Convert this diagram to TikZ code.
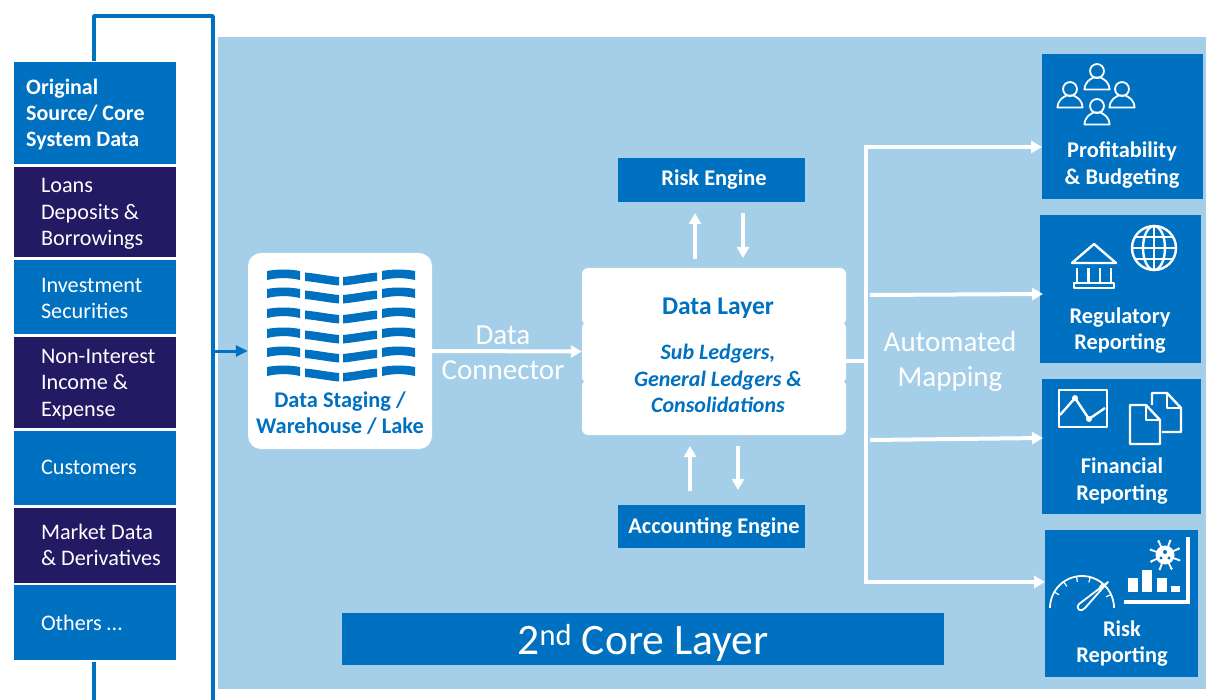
\documentclass[tikz,border=0pt]{standalone}
\usepackage{fontspec}
\setmainfont{Carlito}
\usetikzlibrary{arrows.meta}
\definecolor{bluebox}{HTML}{0070C0}
\definecolor{navybox}{HTML}{231A63}
\definecolor{lightbg}{HTML}{A5CFE9}
\tikzset{
 x=1pt,y=-1pt,
 panel/.style={fill=#1,draw=none,inner sep=0pt,outer sep=0pt,text=white},
 srctext/.style={font=\fontsize{22.2}{26.3}\selectfont,align=left,text=white,anchor=west},
 whitearrow/.style={draw=white,line width=4pt,-{Triangle[length=11pt,width=12pt]}},
 whiteline/.style={draw=white,line width=4pt},
 bluearrow/.style={draw=bluebox,line width=3pt,-{Triangle[length=12pt,width=11pt]}},
 blueline/.style={draw=bluebox,line width=3.5pt,line join=round},
 icon/.style={draw=white,line width=2.4pt,line join=round,fill=none},
 thinicon/.style={draw=white,line width=1.8pt,line join=round,fill=none},
 outtext/.style={text=white,font=\fontsize{22.4}{26.3}\selectfont\bfseries,align=center},
 flowlabel/.style={text=white,font=\fontsize{29}{35}\selectfont,align=center},
}
\newcommand{\panelbox}[6][]{%
 \pgfmathsetmacro{\pw}{#5-#3}\pgfmathsetmacro{\ph}{#6-#4}%
 \node[panel=bluebox,minimum width=\pw pt,minimum height=\ph pt,#1] (#2) at ({(#3+#5)/2},{(#4+#6)/2}) {};}
\newcommand{\person}[3]{%
 \draw[thinicon] (#1,#2) circle ({5.8*#3});
 \draw[thinicon] ({#1-10.5*#3},{#2+15.5*#3}) -- ({#1+10.5*#3},{#2+15.5*#3}) .. controls ({#1+10*#3},{#2+9*#3}) and ({#1+6*#3},{#2+7*#3}) .. ({#1+3*#3},{#2+5.5*#3}) -- ({#1-3*#3},{#2+5.5*#3}) .. controls ({#1-6*#3},{#2+7*#3}) and ({#1-10*#3},{#2+9*#3}) .. cycle;}
\begin{document}
\begin{tikzpicture}
\useasboundingbox (0,0) rectangle (1206,700);
\fill[white] (0,0) rectangle (1206,700);
\fill[lightbg] (218,37) rectangle (1206,689);
% bracket
\panelbox[panel=bluebox]{orig}{14}{62}{176}{164}
\coordinate (busTop) at (213,16);
\coordinate (busBot) at (213,700);
\coordinate (bracketTop) at (94,16);
\coordinate (stubBot) at (94,700);
\coordinate (busOut) at (213,351);
\draw[blueline] (94,61) -- (bracketTop) -- (busTop) -- (busBot);
\coordinate (othersBot) at (94,662);
\draw[blueline] (othersBot) -- (stubBot);
% source boxes
\node[srctext,font=\fontsize{22}{26.3}\selectfont\bfseries] (origT) at (22.7,114.5) {Original\\Source/ Core\\System Data};
\panelbox[panel=navybox]{loans}{14}{167}{176}{257}
\node[srctext] (loansT) at (37.5,214) {Loans\\Deposits \&\\Borrowings};
\panelbox{inv}{14}{260}{176}{334}
\node[srctext] (invT) at (37.5,298.5) {Investment\\Securities};
\panelbox[panel=navybox]{nonint}{14}{337}{176}{428}
\node[srctext] (nonT) at (37.5,384.5) {Non-Interest\\Income \&\\Expense};
\panelbox{cust}{14}{431}{176}{505}
\node[srctext] (custT) at (37.5,467.5) {Customers};
\panelbox[panel=navybox]{market}{14}{508}{176}{583}
\node[srctext] (marT) at (37.5,545) {Market Data\\\& Derivatives};
\panelbox{others}{14}{585}{176}{660}
\node[srctext] (othT) at (37.5,622.5) {Others …};
% warehouse
\node[fill=white,rounded corners=13pt,minimum width=184pt,minimum height=196pt,inner sep=0pt] (lake) at (340,351) {};
\foreach \yy in {270,288,308,328,347,366}{
 \fill[bluebox] (267,\yy+1) .. controls (278,\yy-1) and (289,\yy-1) .. (300,\yy+1) -- (300,\yy+10) .. controls (289,\yy+7.5) and (278,\yy+7.5) .. (267,\yy+10) -- cycle;
 \fill[bluebox] (305,\yy+2.5) .. controls (316,\yy+3.5) and (328,\yy+6) .. (339,\yy+7) -- (339,\yy+15.5) .. controls (328,\yy+14.5) and (316,\yy+12) .. (305,\yy+11) -- cycle;
 \fill[bluebox] (343,\yy+7) .. controls (354,\yy+6) and (366,\yy+3.5) .. (377,\yy+2.5) -- (377,\yy+11) .. controls (366,\yy+12) and (354,\yy+14.5) .. (343,\yy+15.5) -- cycle;
 \fill[bluebox] (382,\yy+1) .. controls (393,\yy-1) and (404,\yy-1) .. (415,\yy+1) -- (415,\yy+10) .. controls (404,\yy+7.5) and (393,\yy+7.5) .. (382,\yy+10) -- cycle;
}
\node[text=bluebox,font=\fontsize{22.4}{26.3}\selectfont\bfseries,align=center] (lakeT) at (340,413) {Data Staging /\\Warehouse / Lake};
\draw[bluearrow] (busOut) -- (lake.west);
% data layer
\fill[white,rounded corners=6pt] (582,268) rectangle (846,325);
\fill[white,rounded corners=6pt] (582,322) rectangle (846,383);
\fill[white,rounded corners=6pt] (582,380) rectangle (846,435);
\node[minimum width=264pt,minimum height=167pt,inner sep=0pt] (dl) at (714,351.5) {};
\node[text=bluebox,font=\fontsize{25.5}{30}\selectfont\bfseries] (dlT) at (718,308) {Data Layer};
\node[text=bluebox,font=\fontsize{22}{26.2}\selectfont\bfseries\itshape,align=center] (dlS) at (718,378.5) {Sub Ledgers,\\General Ledgers \&\\Consolidations};
\draw[whitearrow] (lake.east) -- (dl.west);
\node[flowlabel] (conn) at (503,352.5) {Data\\Connector};
% engines
\panelbox{risk}{618}{158}{805}{202}
\node[outtext] (riskT) at (714,179.5) {Risk Engine};
\panelbox{acc}{618}{505}{805}{548}
\node[outtext] (accT) at (714,527.5) {Accounting Engine};
\coordinate (a1) at (695,259); \coordinate (a2) at (695,213);
\coordinate (a3) at (743,213); \coordinate (a4) at (743,258);
\coordinate (b1) at (690,491); \coordinate (b2) at (690,446);
\coordinate (b3) at (738,446); \coordinate (b4) at (738,490);
\draw[whitearrow] (a1) -- (a2);
\draw[whitearrow] (a3) -- (a4);
\draw[whitearrow] (b1) -- (b2);
\draw[whitearrow] (b3) -- (b4);
% outputs
\panelbox{prof}{1042}{54}{1203}{199}
\panelbox{reg}{1040}{215}{1201}{363}
\panelbox{fin}{1042}{379}{1201}{514}
\panelbox{rr}{1045}{530}{1198}{677}
\node[outtext] (profT) at (1122,165) {Profitability\\\& Budgeting};
\node[outtext] (regT) at (1120,330.5) {Regulatory\\Reporting};
\node[outtext] (finT) at (1122,481) {Financial\\Reporting};
\node[outtext] (rrT) at (1122,643.5) {Risk\\Reporting};
% trunk
\coordinate (t0) at (846,361);
\coordinate (t1) at (866,361);
\coordinate (tTop) at (866,147);
\coordinate (tBot) at (866,582);
\coordinate (j2) at (870,295);
\coordinate (j3) at (870,440);
\draw[whiteline] (tTop) -- (tBot);
\draw[whiteline] (t0) -- (t1);
\draw[whitearrow] (864,147) -- (prof.west |- tTop);
\draw[whitearrow] (864,582) -- (rr.west |- tBot);
\draw[whitearrow] (j2) -- (1043,294);
\draw[whitearrow] (j3) -- (1043,438);
\node[flowlabel] (auto) at (950,361.5) {Automated\\Mapping};
% core layer
\panelbox{core}{342}{613}{944}{665}
\node[text=white,font=\fontsize{43.5}{50}\selectfont] (coreT) at (643,642.5) {2\textsuperscript{nd} Core Layer};
% people icon
\person{1097}{71}{1.2}
\person{1070}{89}{1.2}
\person{1122}{89}{1.2}
\person{1097}{106}{1.2}
% bank
\begin{scope}[icon]
 \draw (1072,263) -- (1094,244) -- (1116,263) -- cycle;
 \draw (1077,268) -- (1077,283) (1088.5,268) -- (1088.5,283) (1100,268) -- (1100,283) (1111,268) -- (1111,283);
 \draw (1074,283) rectangle (1114,288);
\end{scope}
% globe
\begin{scope}[icon]
 \draw (1154,248) circle (22);
 \draw (1154,248) ellipse (11 and 22);
 \draw (1154,226) -- (1154,270);
 \draw (1132,248) -- (1176,248);
 \draw (1136,237) -- (1172,237) (1136,259) -- (1172,259);
\end{scope}
% chart
\begin{scope}[icon]
 \draw (1059,390) rectangle (1107,427);
 \draw (1060,415) -- (1075,398) -- (1089,419) -- (1105,408);
\end{scope}
\fill[white] (1075,398) circle (3) (1089,419) circle (3);
% documents
\begin{scope}[icon]
 \draw (1152,405) -- (1152,393) -- (1167,393) -- (1181,408) -- (1181,432) -- (1162,432);
 \draw (1167,393) -- (1167,408) -- (1181,408);
 \draw (1130,405) -- (1146,405) -- (1160,420) -- (1160,444) -- (1130,444) -- cycle;
 \draw (1146,405) -- (1146,420) -- (1160,420);
\end{scope}
% gauge
\begin{scope}[thinicon]
 \draw (1050,608) arc (180:360:32);
 \foreach \a in {150,125,100,75,50,25}{
  \draw[line width=1.2pt] ({1082+32*cos(\a)},{608-32*sin(\a)}) -- ({1082+26.5*cos(\a)},{608-26.5*sin(\a)});
 }
 \draw (1108,582) -- (1079,604) .. controls (1075,609) and (1081,613) .. (1085,608) -- cycle;
\end{scope}
% bar chart
\draw[white,line width=4pt] (1188,537) -- (1188,602) -- (1124,602);
\fill[white] (1128,578) rectangle (1138,592);
\fill[white] (1142,570) rectangle (1152,592);
\fill[white] (1157,578) rectangle (1167,592);
\fill[white] (1171,586) rectangle (1180,592);
% virus
\fill[white] (1165,555) circle (9.5);
\foreach \a in {0,45,...,315}{
 \draw[white,line width=1.8pt] (1165,555) -- ++({\a+20}:15);
 \fill[white] (1165,555) ++({\a+20}:15) circle (1.5);
}
\fill[bluebox] (1165,552) circle (2) (1161,558) circle (1.6) (1169,558) circle (1.6);
\end{tikzpicture}
\end{document}
